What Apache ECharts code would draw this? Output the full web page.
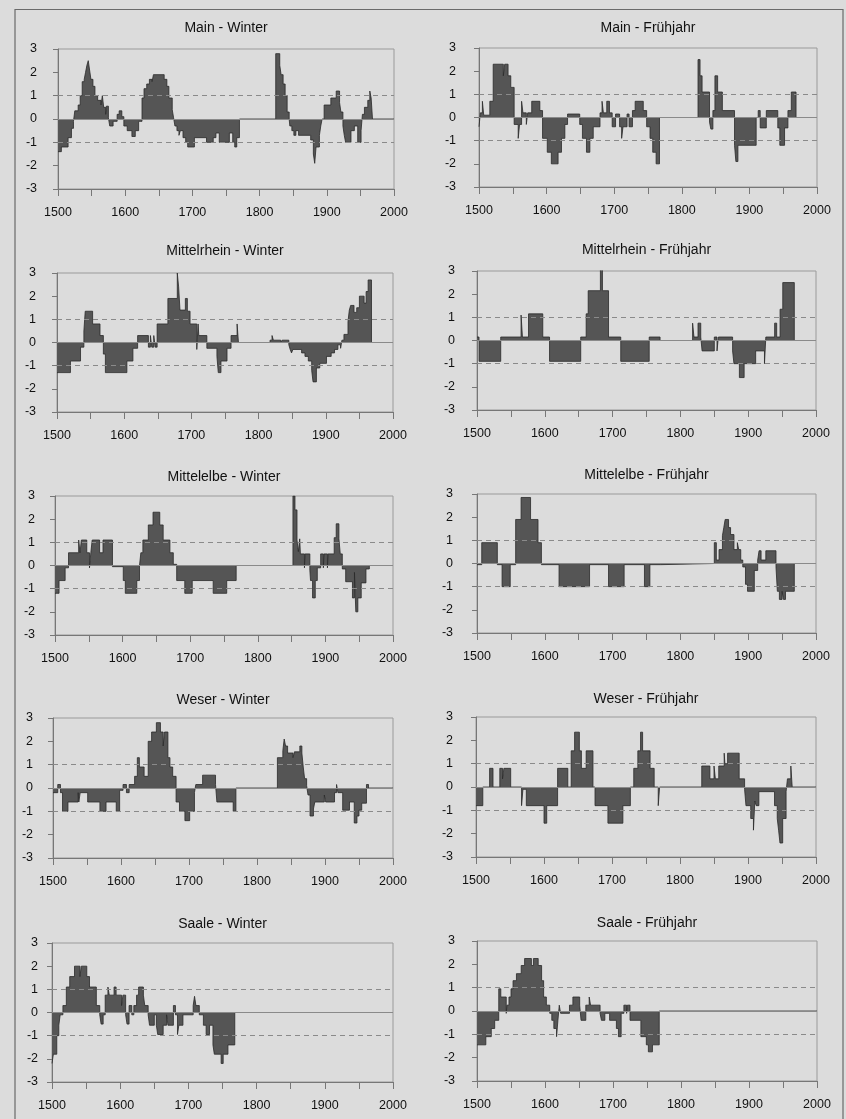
<!DOCTYPE html>
<html>
<head>
<meta charset="utf-8">
<script src="https://cdn.jsdelivr.net/npm/echarts@6/dist/echarts.min.js"></script>
<style>
  html, body { margin: 0; padding: 0; background: #dcdcdc; }
  #chart { width: 846px; height: 1119px; }
</style>
</head>
<body>
<div id="chart"></div>
<script>
// tick labels
const yearTicks = [1500, 1600, 1700, 1800, 1900, 2000];
const yTicks = [-3, -2, -1, 0, 1, 2, 3];

// [Jahr, Wert] - each value holds until the next year
const mainWinter = [[1500,-1.4],[1505,-1.2],[1515,-0.8],[1520,-0.4],[1523,-0.1],[1525,0.35],[1530,0.6],[1533,1.0],[1536,1.6],[1539,1.7],[1541,2.0],[1543,2.3],[1545,2.5],[1547,2.1],[1549,1.7],[1552,1.4],[1555,1.0],[1559,0.8],[1564,0.6],[1566,1.0],[1568,0.5],[1571,0.2],[1572,0.55],[1575,0.05],[1577,-0.3],[1582,-0.1],[1588,0.2],[1591,0.35],[1595,0.1],[1598,-0.3],[1603,-0.5],[1610,-0.75],[1615,-0.5],[1620,-0.1],[1625,0.9],[1628,1.3],[1632,1.5],[1636,1.7],[1640,1.6],[1642,1.9],[1658,1.7],[1662,1.4],[1665,0.9],[1670,0.4],[1672,0.05],[1674,-0.3],[1677,-0.5],[1680,-0.7],[1682,-0.5],[1686,-0.8],[1690,-1.0],[1693,-1.2],[1703,-0.8],[1721,-1.0],[1731,-0.8],[1735,-0.6],[1740,-1.0],[1755,-0.6],[1760,-1.0],[1763,-1.2],[1766,-0.8],[1770,0],[1824,2.8],[1830,2.3],[1832,1.9],[1835,1.5],[1838,1.0],[1841,0.3],[1844,0],[1845,-0.3],[1848,-0.5],[1851,-0.7],[1854,-0.5],[1858,-0.7],[1876,-0.9],[1880,-1.5],[1882,-1.9],[1884,-1.2],[1889,-0.7],[1891,-0.3],[1893,0],[1896,0.6],[1906,0.9],[1914,1.2],[1919,0.7],[1921,0.3],[1924,-0.3],[1926,-0.7],[1928,-1.0],[1936,-0.5],[1941,-0.3],[1946,-1.0],[1951,-0.5],[1953,0.2],[1956,0.5],[1961,0.8],[1964,1.2],[1966,0.9],[1968,0],[2000,0]];

const mainSpring = [[1500,-0.4],[1502,0.2],[1505,0.7],[1507,0.1],[1516,0.7],[1521,2.3],[1536,1.8],[1538,2.3],[1543,1.8],[1547,1.3],[1552,-0.3],[1558,-0.9],[1560,-0.3],[1563,0.7],[1565,0.2],[1570,-0.3],[1572,0.2],[1578,0.7],[1590,0.3],[1594,-0.9],[1601,-1.5],[1607,-2.0],[1617,-1.5],[1622,-0.9],[1627,-0.3],[1631,0.15],[1649,-0.3],[1653,-0.9],[1659,-1.5],[1664,-0.9],[1669,-0.4],[1679,0.2],[1682,0.7],[1684,0.2],[1689,0.7],[1693,0.2],[1697,-0.4],[1702,0.15],[1708,-0.4],[1711,-0.9],[1713,-0.4],[1719,0.15],[1722,-0.4],[1727,0.3],[1731,0.7],[1743,0.3],[1748,-0.4],[1753,-0.9],[1757,-1.5],[1762,-2.0],[1767,0],[1824,2.5],[1827,1.8],[1830,1.1],[1841,-0.2],[1843,-0.5],[1846,0.3],[1849,1.8],[1853,1.1],[1860,0.3],[1878,-1.2],[1880,-1.9],[1883,-1.2],[1910,0],[1913,0.3],[1916,-0.45],[1925,0.3],[1942,-0.45],[1945,-1.2],[1952,-0.45],[1957,0.3],[1962,1.1],[1969,0],[2000,0]];

const rheinWinter = [[1500,-1.3],[1520,-0.8],[1535,-0.2],[1540,0.5],[1542,1.35],[1553,0.8],[1564,0.3],[1569,-0.5],[1572,-1.3],[1604,-0.8],[1613,-0.25],[1620,0.3],[1636,-0.2],[1639,0.3],[1641,-0.2],[1644,0.3],[1646,-0.2],[1649,0.8],[1665,1.9],[1679,3.0],[1681,2.4],[1683,1.4],[1691,1.9],[1694,1.35],[1698,0.8],[1708,-0.3],[1710,0.8],[1711,0.3],[1723,-0.25],[1738,-0.6],[1740,-1.3],[1744,-0.8],[1753,-0.25],[1759,0.3],[1768,0.8],[1770,0],[1817,0.1],[1820,0.3],[1822,0.1],[1833,0],[1835,0.1],[1845,-0.1],[1847,-0.3],[1849,-0.45],[1851,-0.3],[1864,-0.45],[1869,-0.6],[1874,-0.8],[1879,-1.2],[1881,-1.7],[1886,-1.1],[1891,-0.9],[1901,-0.6],[1908,-0.45],[1913,-0.3],[1918,-0.1],[1922,-0.25],[1924,0.1],[1927,0.35],[1933,0.9],[1935,1.4],[1937,1.6],[1942,1.3],[1946,1.5],[1950,2.0],[1957,1.7],[1960,2.2],[1963,2.7],[1968,0],[2000,0]];

const rheinSpring = [[1500,0.15],[1503,-0.9],[1535,0.15],[1565,1.1],[1567,0.15],[1576,1.15],[1597,0.15],[1607,-0.9],[1653,0.15],[1661,1.15],[1664,2.15],[1682,3.1],[1685,2.15],[1694,0.15],[1712,-0.9],[1754,0.15],[1770,0],[1818,0.75],[1820,0.15],[1826,0.75],[1830,0.15],[1832,-0.45],[1850,0.15],[1854,-0.45],[1856,0.15],[1877,-0.45],[1879,-1.0],[1887,-1.6],[1894,-1.0],[1911,-0.45],[1924,-1.0],[1926,0.15],[1939,0.75],[1942,0.15],[1947,1.35],[1951,2.5],[1968,0],[2000,0]];

const elbeWinter = [[1500,-1.2],[1506,-0.65],[1515,-0.1],[1520,0.55],[1535,1.1],[1537,0.55],[1539,1.1],[1547,0.55],[1551,-0.1],[1553,0.55],[1555,1.1],[1566,0.55],[1571,1.1],[1585,-0.05],[1601,-0.65],[1604,-1.2],[1621,-0.65],[1625,0],[1627,0.55],[1630,1.1],[1638,1.75],[1645,2.3],[1655,1.75],[1660,1.1],[1670,0.55],[1675,0.05],[1680,-0.65],[1692,-1.2],[1703,-0.65],[1734,-1.2],[1754,-0.65],[1768,0],[1852,3.0],[1855,2.4],[1858,1.1],[1860,0.6],[1862,1.15],[1863,0.5],[1869,-0.1],[1870,0.5],[1877,-0.2],[1878,-0.65],[1881,-1.4],[1885,-0.65],[1888,-0.1],[1893,0.5],[1897,-0.1],[1898,0.5],[1903,-0.1],[1904,0.5],[1913,1.2],[1916,1.8],[1920,1.15],[1922,0.5],[1925,-0.15],[1930,-0.7],[1940,-1.4],[1943,-0.3],[1945,-2.0],[1948,-1.4],[1953,-0.75],[1960,-0.15],[1965,0],[2000,0]];

const elbeSpring = [[1500,-0.05],[1507,0.9],[1530,-0.05],[1537,-1.0],[1549,-0.05],[1557,1.9],[1565,2.85],[1579,1.9],[1590,0.9],[1595,-0.05],[1621,-1.0],[1666,-0.05],[1694,-1.0],[1717,-0.05],[1747,-1.0],[1755,-0.05],[1771,0],[1850,0.9],[1853,0.15],[1857,0.6],[1862,1.2],[1864,1.55],[1866,1.9],[1871,1.55],[1874,1.25],[1879,0.6],[1884,0.9],[1886,0.6],[1889,0.15],[1892,-0.15],[1896,-0.9],[1899,-1.2],[1909,-0.3],[1914,0.15],[1916,0.55],[1919,0.15],[1926,0.55],[1941,-0.15],[1943,-1.2],[1946,-1.55],[1950,-1.2],[1952,-1.55],[1955,-1.2],[1968,0],[2000,0]];

const weserWinter = [[1500,-0.2],[1507,0.15],[1511,-0.2],[1514,-1.0],[1522,-0.6],[1537,-0.2],[1538,-0.6],[1540,-0.2],[1551,-0.6],[1569,-1.0],[1578,-0.6],[1593,-1.0],[1598,-0.1],[1603,0.15],[1608,-0.2],[1612,0.15],[1620,0.5],[1624,1.3],[1627,0.9],[1634,0.5],[1640,2.0],[1645,2.4],[1652,2.8],[1658,2.4],[1662,1.8],[1664,2.4],[1669,1.3],[1672,0.9],[1676,0.5],[1681,-0.6],[1686,-1.0],[1694,-1.4],[1701,-1.0],[1708,-0.2],[1710,0.15],[1720,0.55],[1739,0.15],[1741,-0.6],[1765,-1.0],[1769,0],[1830,1.3],[1838,1.6],[1840,2.1],[1842,1.8],[1845,1.5],[1853,1.3],[1855,1.55],[1863,1.8],[1866,1.5],[1868,0.9],[1870,0.4],[1873,0.1],[1875,-0.3],[1878,-1.2],[1883,-0.9],[1885,-0.6],[1899,-0.3],[1901,-0.6],[1914,-0.2],[1917,0.15],[1919,-0.2],[1926,-0.95],[1936,-0.6],[1943,-1.5],[1947,-1.2],[1950,-0.95],[1954,-0.65],[1961,0.15],[1964,0],[2000,0]];

const weserSpring = [[1500,-0.8],[1510,0],[1520,0.8],[1525,0],[1535,0.8],[1539,0.35],[1541,0.8],[1551,0],[1567,-0.8],[1569,-0.1],[1574,-0.8],[1600,-1.55],[1604,-0.8],[1620,0.8],[1635,0],[1640,1.55],[1645,2.35],[1652,1.55],[1655,0.8],[1662,1.55],[1672,0],[1675,-0.8],[1694,-1.55],[1716,-0.8],[1727,0],[1732,0.8],[1738,1.55],[1742,2.35],[1745,1.55],[1756,0.8],[1762,0],[1768,-0.8],[1770,0],[1832,0.9],[1844,0.35],[1850,0.9],[1852,0.35],[1857,0.9],[1865,1.45],[1866,1.0],[1870,1.45],[1887,0.35],[1895,-0.1],[1897,-0.8],[1904,-1.35],[1908,-1.85],[1910,-0.6],[1912,-0.8],[1916,-0.2],[1939,-0.8],[1943,-1.35],[1945,-1.85],[1947,-2.4],[1951,-1.35],[1956,-0.2],[1958,0.35],[1963,0.9],[1965,0],[2000,0]];

const saaleWinter = [[1500,-2.2],[1502,-1.8],[1507,-1.0],[1510,-0.55],[1512,-0.1],[1516,0.3],[1521,1.1],[1526,1.55],[1533,2.0],[1541,1.55],[1543,2.0],[1551,1.55],[1555,1.1],[1565,0.3],[1570,-0.1],[1572,-0.5],[1575,-0.1],[1578,0.75],[1582,1.1],[1584,0.75],[1591,1.1],[1594,0.75],[1602,0.3],[1604,0.75],[1608,-0.1],[1610,-0.5],[1613,0.3],[1617,-0.1],[1620,0.3],[1624,0.75],[1627,1.1],[1634,0.75],[1636,0.3],[1641,-0.1],[1643,-0.55],[1650,-0.1],[1653,-0.55],[1655,-0.95],[1663,-0.55],[1668,-0.1],[1670,-0.55],[1678,0.3],[1681,-0.1],[1684,-0.95],[1686,-0.55],[1692,-0.1],[1707,0.3],[1709,0.7],[1711,0.3],[1716,-0.1],[1722,-0.55],[1726,-0.95],[1731,-0.55],[1736,-1.4],[1738,-1.8],[1748,-2.2],[1751,-1.8],[1758,-1.4],[1768,0],[2000,0]];

const saaleSpring = [[1500,-1.45],[1513,-1.1],[1521,-0.75],[1526,-0.4],[1532,0.95],[1535,0.6],[1543,-0.1],[1544,0.25],[1547,0.6],[1550,0.95],[1553,1.3],[1558,1.6],[1565,1.95],[1570,2.25],[1580,1.95],[1583,2.25],[1590,1.95],[1595,1.3],[1598,0.6],[1602,0.25],[1607,-0.1],[1610,-0.4],[1613,-0.75],[1617,-1.1],[1619,-0.4],[1621,0.25],[1623,-0.1],[1636,0.25],[1641,0.6],[1651,0.25],[1653,-0.4],[1660,0.25],[1665,0.6],[1667,0.25],[1681,-0.1],[1683,-0.4],[1688,-0.1],[1695,-0.4],[1705,-0.75],[1708,-1.1],[1712,-0.1],[1716,0.25],[1720,-0.1],[1721,0.25],[1725,-0.4],[1741,-1.1],[1749,-1.45],[1752,-1.75],[1758,-1.45],[1768,0],[2000,0]];

// Layout der Teilgrafiken (Plotfläche in Pixel)
const panels = [
  { title: 'Main - Winter', data: mainWinter, x0: 58, x1: 394, y0: 49, y1: 189, ty: 28, lm: 21 },
  { title: 'Main - Frühjahr', data: mainSpring, x0: 479, x1: 817, y0: 48, y1: 187, ty: 28, lm: 23 },
  { title: 'Mittelrhein - Winter', data: rheinWinter, x0: 57, x1: 393, y0: 273, y1: 412, ty: 251, lm: 21 },
  { title: 'Mittelrhein - Frühjahr', data: rheinSpring, x0: 477, x1: 816, y0: 271, y1: 410, ty: 250, lm: 22 },
  { title: 'Mittelelbe - Winter', data: elbeWinter, x0: 55, x1: 393, y0: 496, y1: 635, ty: 477, lm: 20 },
  { title: 'Mittelelbe - Frühjahr', data: elbeSpring, x0: 477, x1: 816, y0: 494, y1: 633, ty: 475, lm: 24 },
  { title: 'Weser - Winter', data: weserWinter, x0: 53, x1: 393, y0: 718, y1: 858, ty: 700, lm: 20 },
  { title: 'Weser - Frühjahr', data: weserSpring, x0: 476, x1: 816, y0: 717, y1: 857, ty: 699, lm: 23 },
  { title: 'Saale - Winter', data: saaleWinter, x0: 52, x1: 393, y0: 943, y1: 1082, ty: 924, lm: 14 },
  { title: 'Saale - Frühjahr', data: saaleSpring, x0: 477, x1: 817, y0: 941, y1: 1081, ty: 923, lm: 22 }
];

const font = 'Liberation Sans, Arial, sans-serif';
const chart = echarts.init(document.getElementById('chart'));

const option = {
  backgroundColor: '#dcdcdc',
  animation: false,
  title: [],
  grid: [],
  xAxis: [],
  yAxis: [],
  series: [],
  graphic: [{
    type: 'rect',
    shape: { x: 15, y: 9.5, width: 828, height: 1200 },
    style: { fill: 'none', stroke: '#6a6a6a', lineWidth: 1.2 },
    silent: true
  }]
};

panels.forEach((p, i) => {
  option.title.push({
    text: p.title,
    left: (p.x0 + p.x1) / 2,
    top: p.ty - 7,
    textAlign: 'center',
    padding: 0,
    textStyle: { fontFamily: font, fontSize: 14, fontWeight: 'normal', color: '#111' }
  });
  option.grid.push({
    left: p.x0, top: p.y0, width: p.x1 - p.x0, height: p.y1 - p.y0,
    show: true, borderColor: '#9a9a9a', borderWidth: 1, backgroundColor: 'transparent'
  });
  option.xAxis.push({
    gridIndex: i, type: 'value', min: 1500, max: 2000, interval: 50,
    axisLine: { onZero: false, lineStyle: { color: '#777', width: 1 } },
    axisTick: { length: 7, lineStyle: { color: '#777' } },
    splitLine: { show: false },
    axisLabel: {
      margin: 17, color: '#111', fontFamily: font, fontSize: 12.5,
      formatter: v => (yearTicks.indexOf(v) >= 0 ? String(v) : '')
    }
  });
  option.yAxis.push({
    gridIndex: i, type: 'value', min: -3, max: 3, interval: 1,
    axisLine: { show: true, lineStyle: { color: '#777', width: 1 } },
    axisTick: { show: true, length: 5, lineStyle: { color: '#777' } },
    splitLine: { show: false },
    axisLabel: {
      margin: p.lm, color: '#111', fontFamily: font, fontSize: 12.5,
      formatter: v => (yTicks.indexOf(v) >= 0 ? String(v) : '')
    }
  });
  // Hilfslinien (0 und +-1) hinter der Fläche
  option.series.push({
    type: 'line', xAxisIndex: i, yAxisIndex: i, z: 1,
    data: [[1500, 0]], showSymbol: false, lineStyle: { opacity: 0 }, silent: true,
    markLine: {
      silent: true, symbol: 'none', label: { show: false },
      data: [
        { yAxis: 0, lineStyle: { type: 'solid', color: '#8a8a8a', width: 1 } },
        { yAxis: 1, lineStyle: { type: [5, 4], color: '#8a8a8a', width: 1 } },
        { yAxis: -1, lineStyle: { type: [5, 4], color: '#8a8a8a', width: 1 } }
      ]
    }
  });
  option.series.push({
    type: 'line', xAxisIndex: i, yAxisIndex: i, z: 3,
    step: 'end', data: p.data, showSymbol: false, silent: true,
    lineStyle: { color: '#2a2a2a', width: 0.8 },
    areaStyle: { color: '#555555', opacity: 1 }
  });
});

chart.setOption(option);
</script>
</body>
</html>
